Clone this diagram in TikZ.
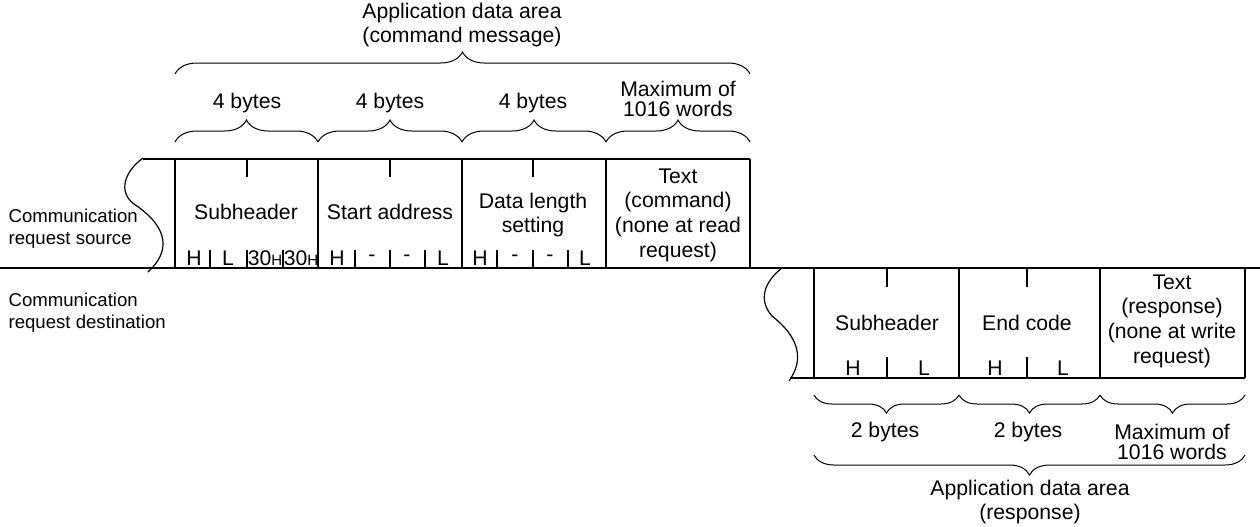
\documentclass[tikz,border=0pt]{standalone}
\usepackage{fontspec}
\setmainfont{Liberation Sans}
\usetikzlibrary{decorations.pathreplacing, positioning}
\newcommand{\hsub}{{\fontsize{7.5}{8}\selectfont H}}

\begin{document}
\begin{tikzpicture}[x=0.5pt, y=-0.5pt, line width=0.6pt,
  fld/.style={font=\fontsize{10.6}{12.3}\selectfont, align=center, inner sep=0pt},
  tight/.style={fld, font=\fontsize{10.6}{10.4}\selectfont},
  side/.style={font=\fontsize{9.3}{11}\selectfont, align=left, anchor=west, inner sep=0pt},
  brc/.style={decorate, decoration={brace, amplitude=#1}, line width=0.5pt},
  brc/.default=10pt]
  \useasboundingbox (0,0) rectangle (1260,526);

  % command message frame
  \draw (143,159) -- (750,159);
  \draw (0,268) -- (1260,268);
  \foreach \x in {175,318,462,606,750} \draw (\x,159) -- (\x,268);
  \foreach \x in {247,390,533} \draw (\x,159) -- (\x,177);
  \foreach \x in {210,247,283,355,390,425,497,533,568} \draw (\x,250) -- (\x,268);
  \draw (143,158) .. controls (124,172) and (118,192) .. (134,204)
    .. controls (170,228) and (170,252) .. (148,272);

  \node[side] (src) at (8,229) {Communication\\request source};
  \node[side] (dst) at (8,313) {Communication\\request destination};

  \node[fld] (hdr) at (246,212) {Subheader};
  \node[fld] (addr) at (390,212) {Start address};
  \node[fld] (dlen) at (533,215) {Data length\\setting};
  \node[fld] (ctext) at (678,215) {Text\\(command)\\(none at read\\request)};
  \foreach \x/\t in {194/H, 228/L, 265/30\hsub, 301/30\hsub, 337/H, 372/-, 407/-, 443/L,
                     480/H, 515/-, 550/-, 585/L}
    \node[fld] at (\x,258) {\t};

  % command braces
  \draw[brc=11pt] (175,142) -- (318,142);
  \draw[brc=11pt] (318,142) -- (462,142);
  \draw[brc=11pt] (462,142) -- (606,142);
  \draw[brc=11pt] (606,142) -- (750,142);
  \draw[brc=11pt] (175,74) -- (750,74);
  \node[fld] (b1) at (247,103) {4 bytes};
  \node[fld] (b2) at (390,103) {4 bytes};
  \node[fld] (b3) at (533,103) {4 bytes};
  \node[tight] (cmax) at (678,99) {Maximum of\\1016 words};
  \node[fld] (carea) at (462,25) {Application data area\\(command message)};

  % response frame
  \draw (790,378) -- (1245,378);
  \foreach \x in {814,959,1100,1245} \draw (\x,268) -- (\x,378);
  \foreach \x in {887,1027} {
    \draw (\x,268) -- (\x,287);
    \draw (\x,357) -- (\x,378);
  }
  \draw (782,268) .. controls (764,282) and (758,300) .. (772,316)
    .. controls (800,338) and (804,360) .. (789,381);

  \node[fld] (rhdr) at (887,323) {Subheader};
  \node[fld] (rend) at (1027,323) {End code};
  \node[fld] (rtext) at (1172,321) {Text\\(response)\\(none at write\\request)};
  \foreach \x/\t in {853/H, 924/L, 995/H, 1063/L}
    \node[fld] at (\x,368) {\t};

  % response braces
  \draw[brc=9pt, decoration={mirror}] (814,395) -- (959,395);
  \draw[brc=9pt, decoration={mirror}] (959,395) -- (1100,395);
  \draw[brc=9pt, decoration={mirror}] (1100,395) -- (1245,395);
  \draw[brc, decoration={mirror}] (814,455) -- (1245,455);
  \node[fld] (r1) at (885,432) {2 bytes};
  \node[fld] (r2) at (1028,432) {2 bytes};
  \node[tight] (rmax) at (1172,442) {Maximum of\\1016 words};
  \node[fld] (rarea) at (1030,502) {Application data area\\(response)};
\end{tikzpicture}
\end{document}
